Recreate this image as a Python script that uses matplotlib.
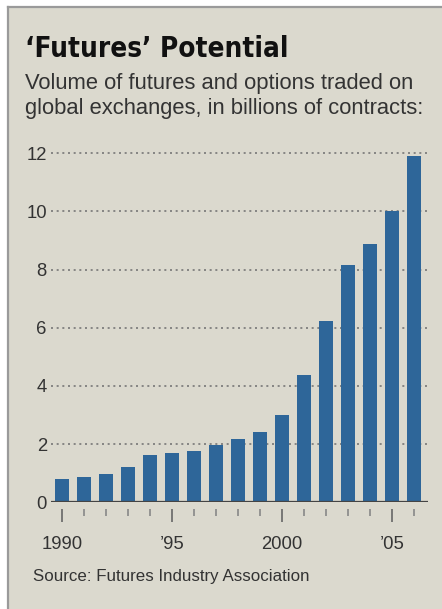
import matplotlib
matplotlib.use("Agg")
import matplotlib.pyplot as plt
from matplotlib import font_manager
from matplotlib.patches import Rectangle

# volumen futures & optionen, mrd kontrakte
years = list(range(1990, 2007))
volume = [0.80, 0.86, 0.98, 1.20, 1.62, 1.71, 1.75, 1.97, 2.18, 2.41,
          3.00, 4.37, 6.23, 8.15, 8.88, 10.03, 11.91]
yticks = [0, 2, 4, 6, 8, 10, 12]
major_years = [1990, 1995, 2000, 2005]
major_labels = ["1990", "\u201995", "2000", "\u201905"]

title = "\u2018Futures\u2019 Potential"
subtitle = ["Volume of futures and options traded on",
            "global exchanges, in billions of contracts:"]
source = "Source: Futures Industry Association"

# titel in schmaler schrift (DejaVu condensed, falls vorhanden)
fonts = font_manager.fontManager.ttflist
cond = any(f.name == "DejaVu Sans" and f.stretch == "condensed" for f in fonts)
title_size = 20 if cond else 17.5
plt.rcParams["font.family"] = ["Liberation Sans", "DejaVu Sans"]

bg = "#dbd9ce"
bar_col = "#2e6699"
txt = "#333333"

W, H = 442, 609
fig = plt.figure(figsize=(W / 100, H / 100), dpi=100, facecolor="white")

# hintergrund mit rahmen links/oben
fig.patches.append(Rectangle((8 / W, 0), 1, 1 - 7 / H, transform=fig.transFigure,
                             facecolor=bg, edgecolor="none", zorder=-5))
fig.add_artist(plt.Line2D([8 / W, 8 / W], [0, 1 - 7 / H], transform=fig.transFigure,
                          color="#9a9a9a", lw=1.6, zorder=-4))
fig.add_artist(plt.Line2D([8 / W, 1], [1 - 7 / H, 1 - 7 / H], transform=fig.transFigure,
                          color="#9a9a9a", lw=1.6, zorder=-4))

fig.text(25 / W, 1 - 57 / H, title, fontsize=title_size, fontweight="bold",
         fontstretch="condensed", color="#111111", va="baseline", ha="left",
         family=["DejaVu Sans"])
fig.text(25 / W, 1 - 89 / H, subtitle[0], fontsize=15.8, color=txt,
         va="baseline", ha="left")
fig.text(25 / W, 1 - 114 / H, subtitle[1], fontsize=15.8, color=txt,
         va="baseline", ha="left")
fig.text(33 / W, 1 - 581 / H, source, fontsize=12.2, color=txt,
         va="baseline", ha="left")

ax = fig.add_axes([51 / W, (H - 502.3) / H, 377 / W, (502.3 - 150.4) / H])
ax.set_facecolor("none")
ax.bar(years, volume, width=0.64, color=bar_col, zorder=3)
ax.set_xlim(1989.5, 2006.62)
ax.set_ylim(0, 12.1)

for sp in ax.spines.values():
    sp.set_visible(False)
ax.spines["bottom"].set_position(("outward", 5))
ax.axhline(0, color="#444444", lw=1.6, zorder=4)

ax.set_yticks(yticks)
ax.set_yticklabels([str(v) for v in yticks])
ax.tick_params(axis="y", length=0, pad=3, labelsize=13.3, labelcolor=txt)
for v in yticks[1:]:
    ax.axhline(v, color="#777777", lw=1.2, ls=(0, (1.2, 2.2)), zorder=1)

ax.set_xticks(major_years)
ax.set_xticklabels(major_labels)
ax.set_xticks(years, minor=True)
ax.tick_params(axis="x", which="major", length=9, width=1.2, color="#666666",
               pad=10, labelsize=13.3, labelcolor=txt)
ax.tick_params(axis="x", which="minor", length=5, width=1.2, color="#888888")

fig.savefig("out.png", dpi=100, facecolor="white")
